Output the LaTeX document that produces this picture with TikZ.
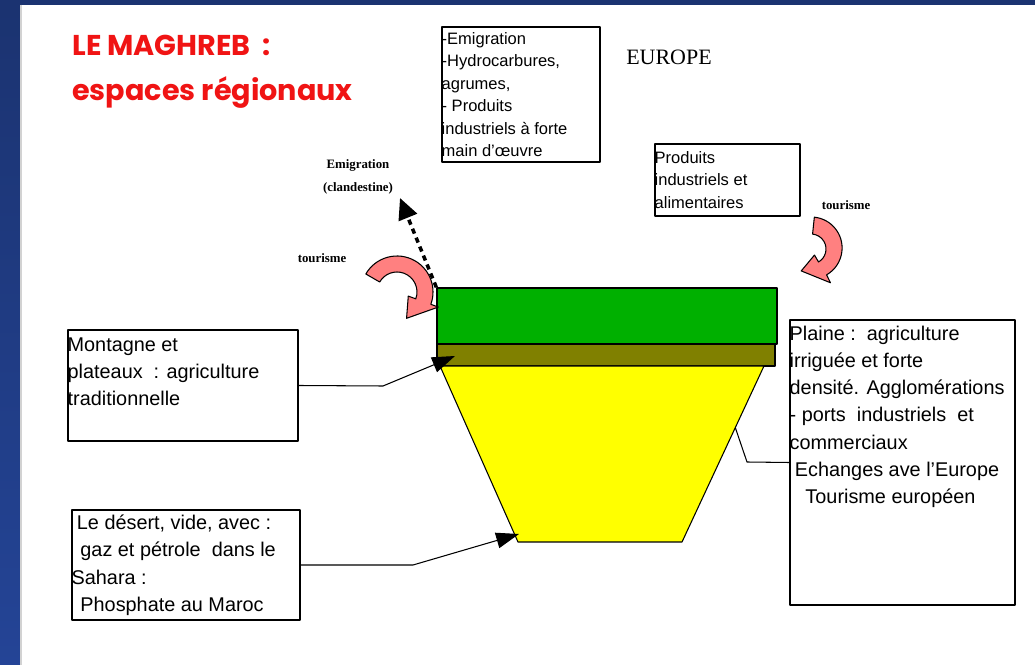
\documentclass[tikz,border=0pt]{standalone}
\usepackage{fontspec}
\setmainfont{Liberation Sans}
\newfontfamily\serifface{Liberation Serif}
\newfontfamily\titleface{Poppins}
\usetikzlibrary{calc,arrows.meta,positioning}
\definecolor{slideblue}{RGB}{36,68,150}
\definecolor{titlered}{RGB}{240,20,20}
\definecolor{tourpink}{RGB}{255,128,128}
\definecolor{plaingreen}{RGB}{0,176,0}
\definecolor{plateauolive}{RGB}{128,128,0}
\definecolor{desertyellow}{RGB}{255,255,0}

\begin{document}
\begin{tikzpicture}[x=0.02cm, y=-0.02cm, line join=round, >=Latex,
  box/.style={draw, line width=0.8pt, inner sep=0pt},
  boxtext/.style={anchor=north west, align=left, inner sep=0pt, font=\fontsize{11.3}{15.5}\selectfont},
  smalltext/.style={anchor=north west, align=left, inner sep=0pt, font=\fontsize{9.4}{12.8}\selectfont},
  title/.style={anchor=west, inner sep=0pt, text=titlered, font=\titleface\bfseries\fontsize{16.3}{20}\selectfont},
  lbl/.style={align=center, inner sep=0pt, font=\serifface\bfseries\fontsize{7.3}{12.8}\selectfont},
  conn/.style={line width=0.6pt, -{Triangle[length=13pt,width=9pt]}},
  tour/.style={fill=tourpink, draw=black, line width=0.6pt}]
\useasboundingbox (0,0) rectangle (1035,665);
% slide background
\shade[top color=slideblue!75!black, bottom color=slideblue] (0,0) rectangle (1035,665);
\fill[white] (20,5) rectangle (1035,665);
\draw[gray!35, line width=1.2pt] (21,5) -- (21,665);
% title
\node[title] (ttl1) at (72,45) {LE MAGHREB\ \ :};
\node[title] (ttl2) at (72,93) {espaces régionaux};
% top: flows to europe
\node[box, minimum width=3.16cm, minimum height=2.7cm] (flux) at (521,94.5) {};
\node[smalltext, yshift=-3.3pt] (fluxtxt) at (flux.north west)
  {-Emigration\\-Hydrocarbures,\\agrumes,\\- Produits\\industriels à forte\\main d'œuvre};
\node[font=\serifface\fontsize{12.5}{15}\selectfont, inner sep=0pt] (europe) at (669,57) {EUROPE};
\node[box, minimum width=2.9cm, minimum height=1.44cm] (import) at (727.5,180) {};
\node[smalltext, yshift=-4.3pt] (importtxt) at (import.north west)
  {Produits\\industriels et\\alimentaires};
\node[lbl] (emig) at (358,177) {Emigration\\(clandestine)};
\node[lbl] (tourl) at (322,258) {tourisme};
\node[lbl] (tourr) at (846,205) {tourisme};
% center: the three layers
\node[draw, fill=plaingreen, line width=0.8pt, minimum width=6.8cm, minimum height=1.12cm, inner sep=0pt] (plain) at (607,316) {};
\node[draw, fill=plateauolive, line width=0.8pt, minimum width=6.76cm, minimum height=0.44cm, inner sep=0pt] (olive) at (606,355) {};
\coordinate (tl) at (440,366);
\coordinate (tr) at (764,366);
\coordinate (br) at (682,542);
\coordinate (bl) at (518,542);
\filldraw[fill=desertyellow, line width=0.6pt] (tl) -- (tr) -- (br) -- (bl) -- cycle;
% tourism arrows
\coordinate (lc) at (397,292);
\filldraw[tour] ($(lc)+(210:36)$) arc (210:380:36) -- ($(lc)+(20:44)$) -- ($(lc)+(70:28)$)
  -- ($(lc)+(20:12)$) -- ($(lc)+(20:20)$) arc (380:210:20) -- cycle;
\coordinate (rc) at (811,249);
\filldraw[tour] ($(rc)+(276:32)$) arc (276:420:31) -- ($(rc)+(60:39)$) -- ($(rc)+(114:24)$)
  -- ($(rc)+(60:7)$) -- ($(rc)+(60:15)$) arc (420:276:15) -- cycle;
% clandestine emigration
\coordinate (etip) at (400,198);
\draw[line width=2pt, dash pattern=on 3pt off 2.5pt, -{Triangle[length=12pt,width=11pt]}] (plain.north west) -- (etip);
% side boxes
\node[box, minimum width=4.6cm, minimum height=2.22cm] (mont) at (183,385.5) {};
\node[boxtext, yshift=-4.5pt] (monttxt) at (mont.north west)
  {Montagne et\\plateaux\ \ : agriculture\\traditionnelle};
\node[box, minimum width=4.56cm, minimum height=2.2cm] (desert) at (186,565) {};
\node[boxtext, yshift=-3pt, xshift=3pt] (deserttxt) at (desert.north west)
  {Le désert, vide, avec :\\\hspace*{2pt}gaz et pétrole\ \ dans le\\\hspace*{-3pt}Sahara :\\\hspace*{2pt}Phosphate au Maroc};
\node[box, minimum width=4.5cm, minimum height=5.7cm] (plaine) at (902.5,462.5) {};
\node[boxtext, yshift=-3.5pt] (plainetxt) at (plaine.north west)
  {Plaine :\ \ agriculture\\irriguée et forte\\densité. Agglomérations\\- ports\ \ industriels\ \ et\\commerciaux\\\hspace*{3pt}Echanges ave l'Europe\\\hspace*{9pt}Tourisme européen};
% connectors
\coordinate (mbend) at (383,386);
\coordinate (mtip) at (455,356);
\draw[conn] (mont.east) -- (mbend) -- (mtip);
\coordinate (dbend) at (413,565);
\coordinate (dtip) at (519,534);
\draw[conn] (desert.east) -- (dbend) -- (dtip);
\coordinate (pbend) at (747,462);
\draw[line width=0.6pt] (plaine.west) -- (pbend) -- ($(tr)!0.35!(br)$);
\end{tikzpicture}
\end{document}
